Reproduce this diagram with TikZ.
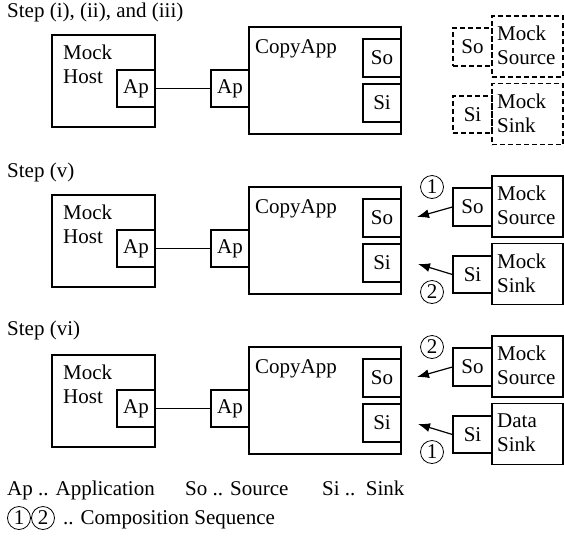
\documentclass[tikz,border=0pt]{standalone}
\usepackage{fontspec}
\setmainfont{Liberation Serif}
\usetikzlibrary{arrows.meta}
\tikzset{
  box/.style={draw, line width=1.2pt, inner sep=0pt, rectangle},
  dbox/.style={box, dash pattern=on 5pt off 3pt},
  txt/.style={inner sep=0pt, align=left},
  seqnum/.style={draw, circle, line width=0.8pt, minimum size=23pt, inner sep=0pt},
  conn/.style={line width=1.2pt, -{Latex[length=12pt,width=9pt]}},
  link/.style={line width=1.2pt}
}
\newcommand\leftpart[2]{%
  \begin{scope}[shift={(0,#1)}]
    \node[box, minimum width=103pt, minimum height=92pt] (mh#2) at (103.5,81) {};
    \node[txt, anchor=north west] (mht#2) at (63,44.5) {Mock\\Host};
    \node[box, fill=white, minimum width=38pt, minimum height=37pt] (apl#2) at (136,88.5) {Ap};
    \node[box, minimum width=152pt, minimum height=107pt] (ca#2) at (325,80.5) {};
    \node[txt, anchor=base west] (cat#2) at (255,53) {CopyApp};
    \node[box, fill=white, minimum width=38pt, minimum height=37pt] (apr#2) at (230,88.5) {Ap};
    \node[box, fill=white, minimum width=38pt, minimum height=38pt] (so#2) at (382,58) {So};
    \node[box, fill=white, minimum width=38pt, minimum height=38pt] (si#2) at (382,103) {Si};
    \draw[link] (apl#2) -- (apr#2);
  \end{scope}}
\newcommand\rightpart[5]{%
  % #1 offset, #2 suffix, #3 style, #4 top label, #5 bottom label
  \begin{scope}[shift={(0,#1)}]
    \node[#3, minimum width=39pt, minimum height=38pt] (rso#2) at (472.5,47) {So};
    \node[#3, minimum width=71pt, minimum height=61pt] (ms#2) at (527.5,46.5) {};
    \node[txt, anchor=north west] (mst#2) at (497,25.5) {Mock\\Source};
    \node[#3, minimum width=39pt, minimum height=37pt] (rsi#2) at (472.5,114.5) {Si};
    \node[#3, minimum width=71pt, minimum height=61pt] (mk#2) at (527.5,114) {};
    \node[txt, anchor=north west] (mkt#2) at (497,93.5) {#4\\#5};
  \end{scope}}
\begin{document}
\begin{tikzpicture}[x=1pt, y=-1pt, font=\fontsize{21}{24}\selectfont]
\useasboundingbox (0,0) rectangle (564,536);

% titles
\node[txt, anchor=base west] (st1) at (7,17) {Step (i), (ii), and (iii)};
\node[txt, anchor=base west] (st2) at (7,177) {Step (v)};
\node[txt, anchor=base west] (st3) at (7,335) {Step (vi)};

% panel 1
\leftpart{0}{a}
\rightpart{0}{a}{dbox}{Mock}{Sink}

% panel 2
\leftpart{160}{b}
\rightpart{160}{b}{box}{Mock}{Sink}
\begin{scope}[shift={(0,160)}]
  \coordinate (eab) at (417,57);
  \coordinate (ebb) at (418,104);
  \draw[conn] (rsob.west) -- (eab);
  \draw[conn] (rsib.west) -- (ebb);
  \node[seqnum] (c1b) at (432,27) {1};
  \node[seqnum] (c2b) at (432,132) {2};
\end{scope}

% panel 3
\leftpart{320}{c}
\rightpart{320}{c}{box}{Data}{Sink}
\begin{scope}[shift={(0,320)}]
  \coordinate (eac) at (417,57);
  \coordinate (ebc) at (418,104);
  \draw[conn] (rsoc.west) -- (eac);
  \draw[conn] (rsic.west) -- (ebc);
  \node[seqnum] (c2c) at (432,27) {2};
  \node[seqnum] (c1c) at (432,132) {1};
\end{scope}

% legend
\node[txt, anchor=base west] (lg1) at (7,495) {Ap .. Application};
\node[txt, anchor=base west] (lg2) at (185,495) {So .. Source};
\node[txt, anchor=base west] (lg3) at (322,495) {Si ..\ \ Sink};
\node[seqnum] (lc1) at (19,518) {1};
\node[seqnum] (lc2) at (43,518) {2};
\node[txt, anchor=base west] (lg4) at (63,524) {.. Composition Sequence};
\end{tikzpicture}
\end{document}
